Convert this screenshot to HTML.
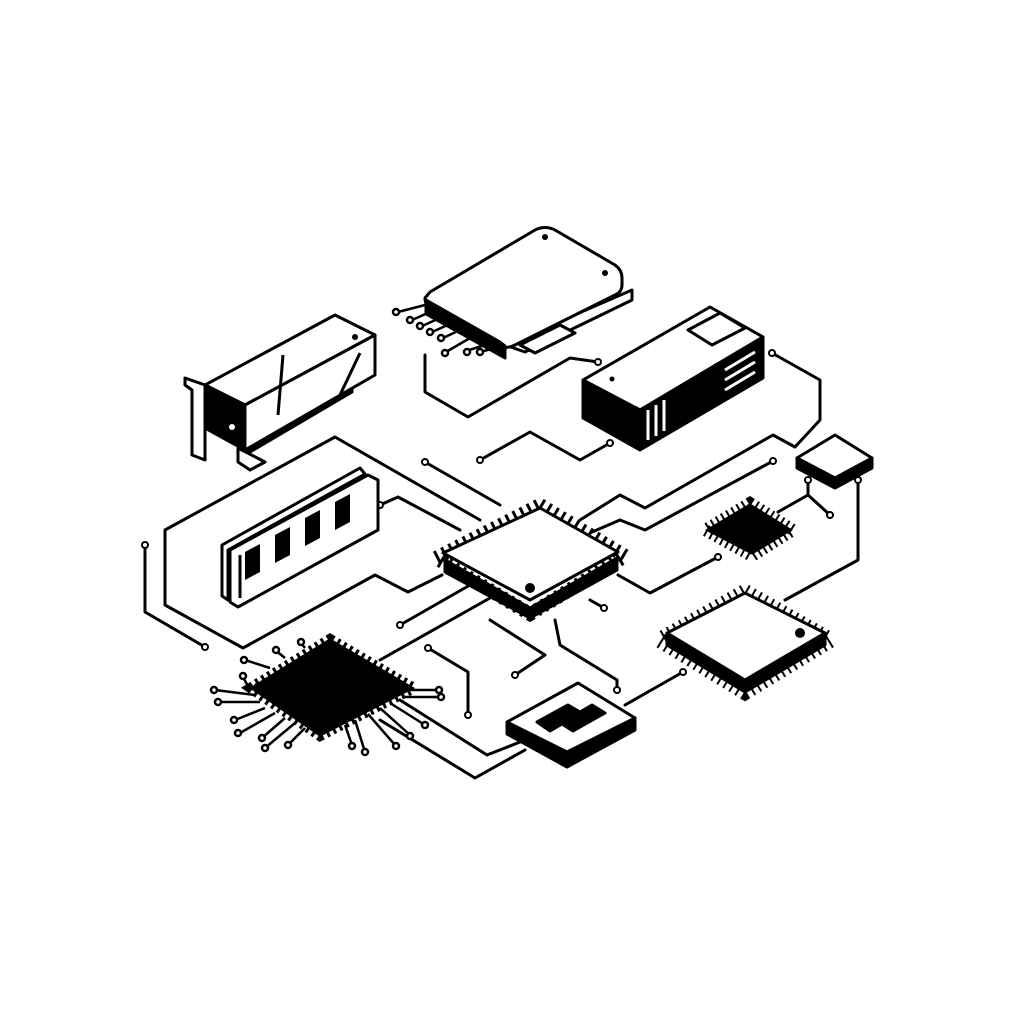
<!DOCTYPE html>
<html><head><meta charset="utf-8"><style>html,body{margin:0;background:#fff}svg{display:block}</style></head><body>
<svg width="1024" height="1024" viewBox="0 0 1024 1024" xmlns="http://www.w3.org/2000/svg">
<g fill="none" stroke="#000" stroke-width="3" stroke-linejoin="round" stroke-linecap="round">
<polyline points="480,520 335,437 165,530 165,605 243,648 375,575 408,592 442,575"/>
<polyline points="145,545 145,612 205,647"/>
<polyline points="380,505 398,497 460,530"/>
<polyline points="425,462 500,505"/>
<polyline points="480,460 530,432 580,460 610,443"/>
<polyline points="425,355 425,392 468,417 570,358 598,362"/>
<polyline points="772,353 820,380 820,420 795,447 773,435 645,508 620,495 580,520"/>
<polyline points="773,461 645,530 620,520 592,532"/>
<polyline points="618,575 650,593 718,557"/>
<polyline points="808,480 808,495 778,512"/>
<polyline points="808,495 830,515"/>
<polyline points="858,480 858,560 785,600"/>
<polyline points="683,672 625,705"/>
<polyline points="400,625 470,585"/>
<polyline points="380,660 490,598"/>
<polyline points="490,620 545,655 515,675"/>
<polyline points="555,620 560,645 617,680 617,690"/>
<polyline points="428,648 468,672 468,715"/>
<polyline points="604,608 590,600"/>
<polyline points="400,700 487,755 520,742"/>
<polyline points="380,720 475,778 525,750"/>
</g>
<g fill="#fff" stroke="#000" stroke-width="2">
<circle cx="145" cy="545" r="3"/><circle cx="205" cy="647" r="3"/><circle cx="380" cy="505" r="3"/>
<circle cx="425" cy="462" r="3"/><circle cx="480" cy="460" r="3"/><circle cx="610" cy="443" r="3"/>
<circle cx="598" cy="362" r="3"/><circle cx="772" cy="353" r="3"/><circle cx="773" cy="461" r="3"/>
<circle cx="718" cy="557" r="3"/><circle cx="808" cy="480" r="3"/><circle cx="830" cy="515" r="3"/>
<circle cx="858" cy="480" r="3"/><circle cx="683" cy="672" r="3"/><circle cx="400" cy="625" r="3"/>
<circle cx="515" cy="675" r="3"/><circle cx="617" cy="690" r="3"/><circle cx="428" cy="648" r="3"/>
<circle cx="468" cy="715" r="3"/><circle cx="604" cy="608" r="3"/>
</g>
<!-- GPU -->
<g stroke="#000" stroke-width="3" stroke-linejoin="round">
<polygon points="185,378 205,385 205,460 192,455 192,390 185,385" fill="#fff"/>
<polygon points="235,440 352,378 352,392 250,452" fill="#000"/>
<polygon points="238,448 265,462 250,470 238,462" fill="#fff"/>
<polygon points="205,385 335,315 375,335 245,405" fill="#fff"/>
<polygon points="205,385 245,405 245,450 205,428" fill="#000"/>
<polygon points="245,405 375,335 375,375 245,450" fill="#fff"/>
<polyline points="283,355 278,415" fill="none"/>
<polyline points="360,353 340,395" fill="none"/>
</g>
<circle cx="355" cy="337" r="3" fill="#000"/><circle cx="232" cy="427" r="3" fill="#fff"/>
<!-- HDD -->
<g stroke="#000" stroke-width="3" stroke-linejoin="round">
<polygon points="505,345 632,290 632,300 525,352" fill="#fff"/>
<polygon points="520,345 560,325 575,333 535,353" fill="#fff"/>
<path d="M430,292 L535,230 Q545,225 555,230 L615,265 Q622,270 622,278 L622,285 Q622,292 615,295 L515,345 Q505,350 495,345 L430,308 Q425,305 425,298 Z" fill="#fff"/>
<polygon points="426,300 500,342 505,346 505,358 426,314" fill="#000"/>
</g>
<circle cx="545" cy="237" r="3" fill="#000"/><circle cx="605" cy="273" r="3" fill="#000"/>
<g stroke="#000" stroke-width="2.5" fill="#fff">
<line x1="425" y1="305" x2="398" y2="312"/><circle cx="396" cy="312" r="3"/>
<line x1="430" y1="312" x2="412" y2="320"/><circle cx="410" cy="320" r="3"/>
<line x1="440" y1="318" x2="422" y2="326"/><circle cx="420" cy="326" r="3"/>
<line x1="450" y1="324" x2="432" y2="332"/><circle cx="430" cy="332" r="3"/>
<line x1="460" y1="330" x2="443" y2="338"/><circle cx="441" cy="338" r="3"/>
<line x1="470" y1="338" x2="446" y2="352"/><circle cx="445" cy="353" r="3"/>
<line x1="485" y1="345" x2="466" y2="351"/><circle cx="467" cy="352" r="3"/>
<line x1="495" y1="348" x2="480" y2="352"/><circle cx="480" cy="352" r="3"/>
</g>
<!-- PSU -->
<g stroke="#000" stroke-width="3" stroke-linejoin="round">
<polygon points="583,380 710,307 763,337 640,410" fill="#fff"/>
<polygon points="583,380 640,410 640,450 583,418" fill="#000"/>
<polygon points="640,410 763,337 763,378 640,450" fill="#000"/>
<polygon points="688,330 720,313 745,328 712,345" fill="#fff"/>
</g>
<g stroke="#fff" stroke-width="3">
<line x1="648" y1="410" x2="648" y2="440"/><line x1="656" y1="405" x2="656" y2="436"/><line x1="664" y1="400" x2="664" y2="431"/>
<line x1="725" y1="370" x2="755" y2="352"/><line x1="725" y1="380" x2="755" y2="362"/><line x1="725" y1="390" x2="755" y2="372"/>
</g>
<circle cx="612" cy="379" r="2.5" fill="#000"/>
<!-- RAM -->
<g stroke="#000" stroke-width="3" stroke-linejoin="round">
<polygon points="222,545 360,468 365,474 228,550 228,600 222,596" fill="#fff"/>
<polygon points="230,550 368,475 378,480 378,530 238,607 230,602" fill="#fff"/>
<line x1="240" y1="555" x2="240" y2="598"/>
</g>
<g fill="#000"><polygon points="245,552 260,544 260,572 245,580"/><polygon points="275,535 290,527 290,555 275,563"/><polygon points="305,518 320,510 320,538 305,546"/><polygon points="335,502 350,494 350,522 335,530"/></g>
<!-- Central CPU -->
<g stroke="#000" stroke-width="14" stroke-dasharray="3 5">
<polygon points="540,505 625,556 530,614 436,558" fill="none"/>
</g>
<g stroke="#000" stroke-width="3" stroke-linejoin="round">
<polygon points="445,560 530,608 617,558 617,570 530,618 445,572" fill="#000"/>
<polygon points="540,508 618,552 530,600 443,553" fill="#fff"/>
</g>
<circle cx="530" cy="588" r="5" fill="#000"/>
<!-- Small black chip -->
<g stroke="#000" stroke-width="12" stroke-dasharray="2 4"><polygon points="750,503 793,530 752,556 705,530" fill="none"/></g>
<polygon points="750,505 790,530 752,553 708,530" fill="#000" stroke="#000" stroke-width="3"/>
<!-- Tiny chip -->
<g stroke="#000" stroke-width="3" stroke-linejoin="round">
<polygon points="797,458 835,478 872,458 872,468 835,488 797,468" fill="#000"/>
<polygon points="835,435 872,458 835,478 797,458" fill="#fff"/>
</g>
<!-- Right chip -->
<g stroke="#000" stroke-width="16" stroke-dasharray="2 5"><polygon points="745,592 830,640 745,692 660,640" fill="none"/></g>
<g stroke="#000" stroke-width="3" stroke-linejoin="round">
<polygon points="667,636 745,682 825,636 825,645 745,692 667,645" fill="#000"/>
<polygon points="745,593 825,633 745,680 667,633" fill="#fff"/>
</g>
<circle cx="800" cy="633" r="5" fill="#000"/>
<!-- Big black chip -->
<g stroke="#000" stroke-width="12" stroke-dasharray="3 4"><polygon points="330,640 412,688 320,735 252,688" fill="none"/></g>
<polygon points="330,640 412,688 320,735 252,688" fill="#000" stroke="#000" stroke-width="3"/>
<g stroke="#000" stroke-width="2.5" fill="#fff">
<line x1="255" y1="695" x2="215" y2="690"/><circle cx="214" cy="690" r="3"/>
<line x1="260" y1="702" x2="220" y2="702"/><circle cx="218" cy="702" r="3"/>
<line x1="265" y1="708" x2="235" y2="720"/><circle cx="234" cy="720" r="3"/>
<line x1="275" y1="713" x2="240" y2="733"/><circle cx="238" cy="733" r="3"/>
<line x1="285" y1="718" x2="262" y2="738"/><circle cx="262" cy="738" r="3"/>
<line x1="295" y1="723" x2="265" y2="748"/><circle cx="265" cy="748" r="3"/>
<line x1="305" y1="728" x2="288" y2="745"/><circle cx="288" cy="745" r="3"/>
<line x1="345" y1="725" x2="352" y2="745"/><circle cx="352" cy="746" r="3"/>
<line x1="355" y1="720" x2="365" y2="752"/><circle cx="365" cy="752" r="3"/>
<line x1="368" y1="714" x2="395" y2="745"/><circle cx="396" cy="746" r="3"/>
<line x1="380" y1="708" x2="410" y2="735"/><circle cx="410" cy="736" r="3"/>
<line x1="390" y1="703" x2="425" y2="725"/><circle cx="425" cy="725" r="3"/>
<line x1="402" y1="697" x2="440" y2="697"/><circle cx="441" cy="697" r="3"/>
<line x1="408" y1="690" x2="438" y2="690"/><circle cx="439" cy="690" r="3"/>
<line x1="270" y1="668" x2="245" y2="660"/><circle cx="244" cy="660" r="3"/>
<line x1="285" y1="658" x2="275" y2="650"/><circle cx="276" cy="650" r="3"/>
<line x1="305" y1="648" x2="300" y2="642"/><circle cx="301" cy="642" r="3"/>
<line x1="250" y1="690" x2="243" y2="677"/><circle cx="243" cy="676" r="3"/>
</g>
<!-- Bottom logo chip -->
<g stroke="#000" stroke-width="3" stroke-linejoin="round">
<polygon points="507,722 567,755 635,718 635,730 567,767 507,734" fill="#000"/>
<polygon points="578,683 635,718 567,752 507,722" fill="#fff"/>
<polygon points="537,722 568,705 580,712 592,705 605,713 573,731 562,724 550,731" fill="#000"/>
</g>
</svg>
</body></html>
